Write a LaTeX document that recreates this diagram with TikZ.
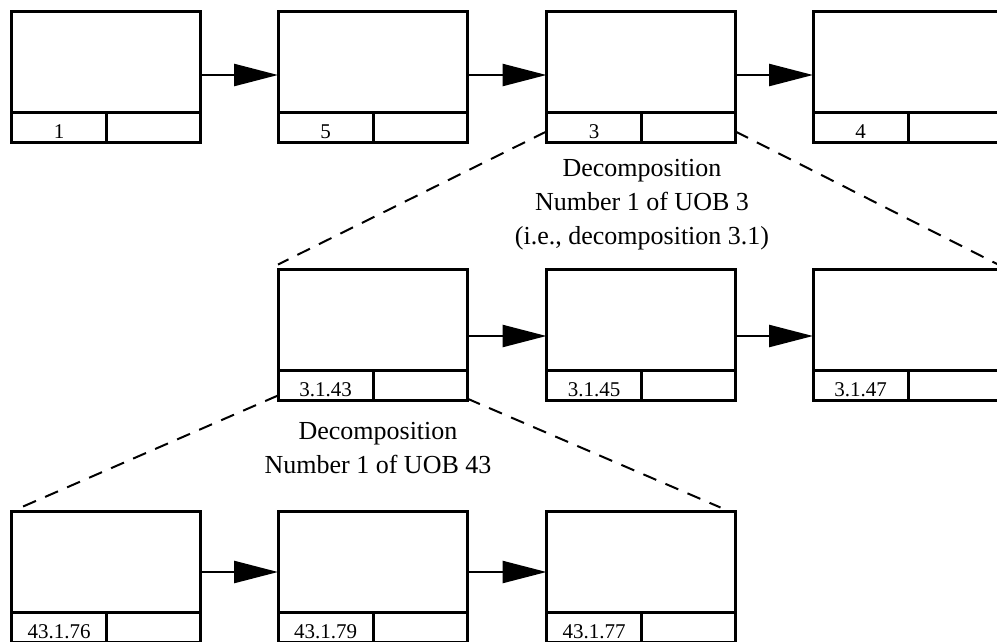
\documentclass[tikz,border=0pt]{standalone}
\usepackage{fontspec}
\setmainfont{Liberation Serif}
\usetikzlibrary{arrows.meta}
\tikzset{
  uob/.style={draw, line width=3pt, minimum width=189pt, minimum height=131pt,
    inner sep=0pt, outer sep=0pt, anchor=north west},
  cellrule/.style={line width=3pt},
  idlabel/.style={font=\fontsize{21}{21}\selectfont, anchor=base, inner sep=0pt},
  flow/.style={line width=2.5pt, -{Triangle[length=44pt,width=22pt]}},
  decomp/.style={line width=2pt, dash pattern=on 14pt off 10pt},
  note/.style={font=\fontsize{26}{34}\selectfont, anchor=base, inner sep=0pt}
}
% one unit of behaviour: a box with a two-cell strip at the bottom
\newcommand\uobbox[4]{%
  \node[uob] (#1) at (#2,#3) {};
  \draw[cellrule] ([yshift=30pt]#1.south west) -- ([yshift=30pt]#1.south east);
  \draw[cellrule] ([xshift=95pt,yshift=30pt]#1.south west) -- ([xshift=95pt]#1.south west);
  \node[idlabel] (#1-id) at ([xshift=47.5pt,yshift=4pt]#1.south west) {#4};
}
\begin{document}
\begin{tikzpicture}[x=1pt,y=-1pt]
\useasboundingbox (0,0) rectangle (997,641);
\clip (0,0) rectangle (997,641);

% top level
\uobbox{a1}{11.5}{11.5}{1}
\uobbox{a2}{278}{11.5}{5}
\uobbox{a3}{546.5}{11.5}{3}
\uobbox{a4}{813}{11.5}{4}

% decomposition 3.1
\uobbox{b1}{278}{269.5}{3.1.43}
\uobbox{b2}{546.5}{269.5}{3.1.45}
\uobbox{b3}{813}{269.5}{3.1.47}

% decomposition 43.1
\uobbox{c1}{11.5}{511.5}{43.1.76}
\uobbox{c2}{278}{511.5}{43.1.79}
\uobbox{c3}{546.5}{511.5}{43.1.77}

% precedence links
\draw[flow] ([yshift=-63.5pt]a1.north east) -- ([yshift=-63.5pt]a2.north west);
\draw[flow] ([yshift=-63.5pt]a2.north east) -- ([yshift=-63.5pt]a3.north west);
\draw[flow] ([yshift=-63.5pt]a3.north east) -- ([yshift=-63.5pt]a4.north west);
\draw[flow] ([yshift=-66.5pt]b1.north east) -- ([yshift=-66.5pt]b2.north west);
\draw[flow] ([yshift=-66.5pt]b2.north east) -- ([yshift=-66.5pt]b3.north west);
\draw[flow] ([yshift=-60.5pt]c1.north east) -- ([yshift=-60.5pt]c2.north west);
\draw[flow] ([yshift=-60.5pt]c2.north east) -- ([yshift=-60.5pt]c3.north west);

% decomposition fans
\draw[decomp] ([yshift=11pt]a3.south west) -- ([yshift=5pt]b1.north west);
\draw[decomp] ([yshift=11pt]a3.south east) -- ([yshift=3pt]b3.north east);
\draw[decomp] ([yshift=5pt]b1.south west) -- ([xshift=7pt,yshift=3pt]c1.north west);
\draw[decomp] ([yshift=2pt]b1.south east) -- ([xshift=-15pt,yshift=4pt]c3.north east);

% captions
\node[note] (d1a) at (642,176) {Decomposition};
\node[note] (d1b) at (642,210) {Number 1 of UOB 3};
\node[note] (d1c) at (642,244) {(i.e., decomposition 3.1)};
\node[note] (d2a) at (378,439) {Decomposition};
\node[note] (d2b) at (378,473) {Number 1 of UOB 43};
\end{tikzpicture}
\end{document}
